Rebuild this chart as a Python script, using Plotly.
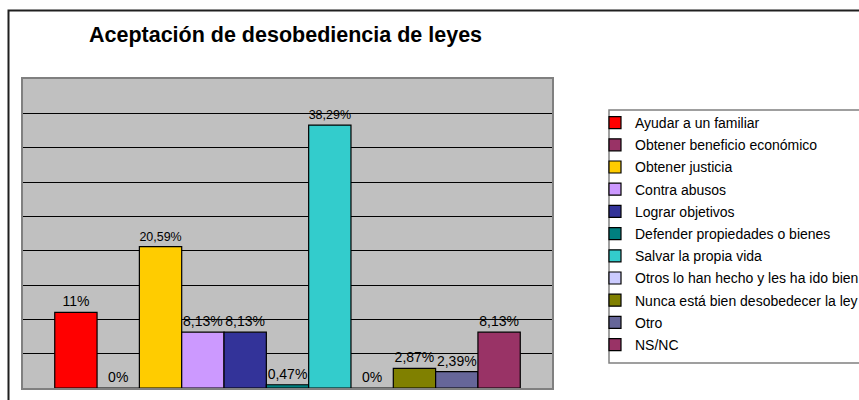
import plotly.graph_objects as go

categories = ["Ayudar a un familiar", "Obtener beneficio económico", "Obtener justicia",
              "Contra abusos", "Lograr objetivos", "Defender propiedades o bienes",
              "Salvar la propia vida", "Otros lo han hecho y les ha ido bien",
              "Nunca está bien desobedecer la ley", "Otro", "NS/NC"]
values = [11, 0, 20.59, 8.13, 8.13, 0.47, 38.29, 0, 2.87, 2.39, 8.13]
labels = ["11%", "0%", "20,59%", "8,13%", "8,13%", "0,47%", "38,29%", "0%", "2,87%", "2,39%", "8,13%"]
colors = ["#FF0000", "#993366", "#FFCC00", "#CC99FF", "#333399", "#008080",
          "#33CCCC", "#CCCCFF", "#808000", "#666699", "#993366"]
grid_vals = [5, 10, 15, 20, 25, 30, 35, 40]

W, H = 859, 400
L, R, T, B = 23, 552, 79, 388
PW, PH = R - L, B - T


def px(x):
    return (x - L) / PW


def py(y):
    return (B - y) / PH


fig = go.Figure()
for i, (name, v, lab, c) in enumerate(zip(categories, values, labels, colors)):
    fig.add_trace(go.Bar(
        x=["Aceptación"], y=[v], name=name, text=[lab],
        textposition="outside", cliponaxis=False,
        textfont=dict(family="Liberation Sans, Arial", size=14, color="#000000"),
        marker=dict(color=c, line=dict(color="#000000", width=1.2)),
        legendgroup=f"g{i}",
    ))

fig.update_layout(
    width=W, height=H,
    margin=dict(l=L, r=W - R, t=T, b=H - B, pad=0, autoexpand=False),
    paper_bgcolor="#FFFFFF", plot_bgcolor="#C0C0C0",
    barmode="group", bargap=0.12, bargroupgap=0,
    showlegend=True,
    font=dict(family="Liberation Sans, Arial", color="#000000"),
    title=dict(text="<b>Aceptación de desobediencia de leyes</b>",
               x=px(285.5), xref="paper", xanchor="center",
               y=1 - 34 / H, yref="container", yanchor="middle",
               font=dict(family="Liberation Sans, Arial", size=21.5, color="#000000")),
    legend=dict(x=px(595), y=py(107), xanchor="left", yanchor="top",
                bgcolor="rgba(0,0,0,0)", borderwidth=0,
                font=dict(family="Liberation Sans, Arial", size=14, color="#000000"),
                traceorder="grouped", tracegroupgap=1, itemwidth=30),
    xaxis=dict(showticklabels=False, showgrid=False, zeroline=False,
               showline=True, mirror=True, linecolor="#808080", linewidth=2, ticks=""),
    yaxis=dict(range=[0, 45], tickvals=grid_vals, showticklabels=False, ticks="",
               showgrid=True, gridcolor="#000000", gridwidth=1, zeroline=False,
               showline=True, mirror=True, linecolor="#808080", linewidth=2),
    shapes=[
        dict(type="rect", xref="paper", yref="paper",
             x0=px(8.5), x1=2.0, y0=-0.5, y1=py(10.5),
             line=dict(color="#1F1F1F", width=2), fillcolor="rgba(0,0,0,0)"),
        dict(type="rect", xref="paper", yref="paper", layer="below",
             x0=px(609), x1=2.0, y0=py(363), y1=py(110),
             line=dict(color="#808080", width=1.5), fillcolor="#FFFFFF"),
    ],
)

fig.write_html("out.html",
               config={"displayModeBar": False},
               post_script="document.body.style.margin='0';document.body.style.overflow='hidden';")
